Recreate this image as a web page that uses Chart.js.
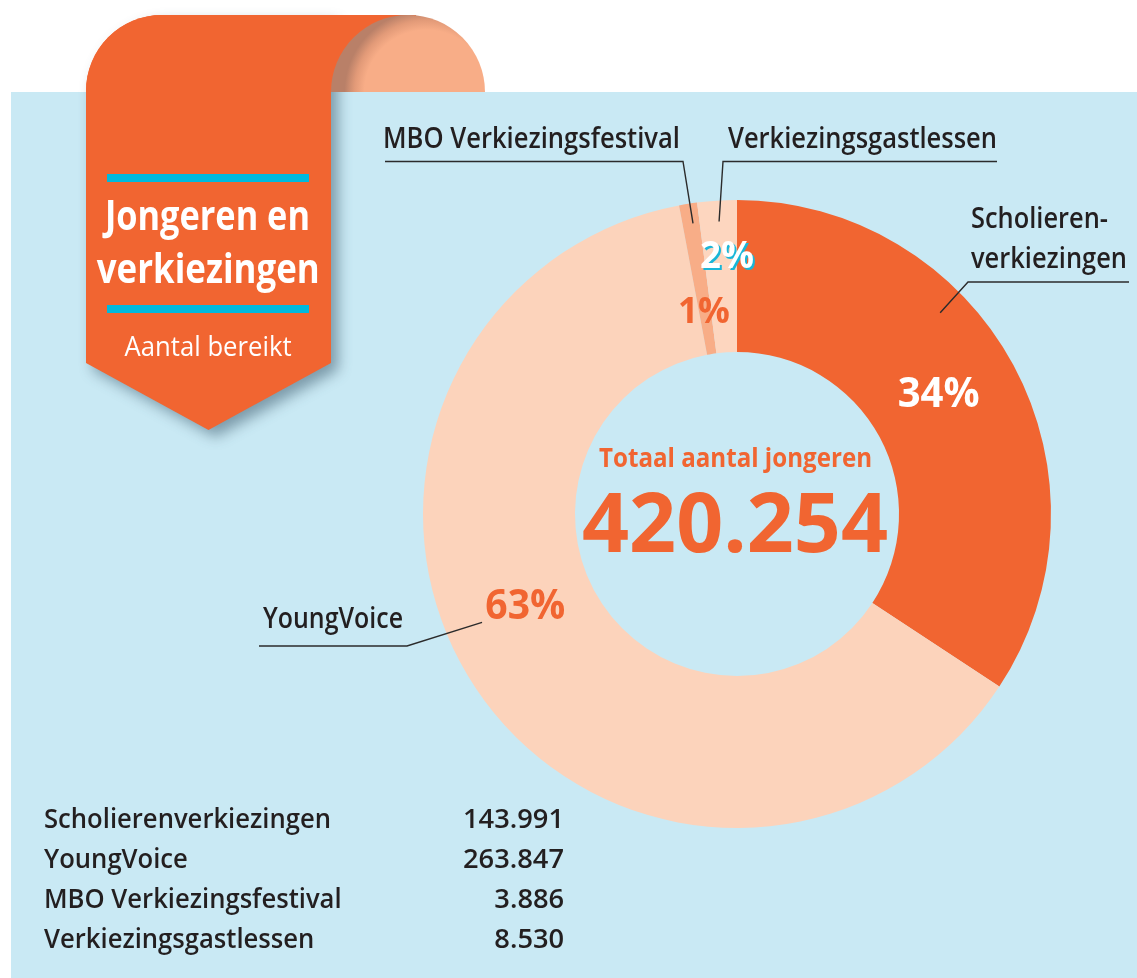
<!DOCTYPE html>
<html><head><meta charset="utf-8">
<script src="https://cdn.jsdelivr.net/npm/chart.js@4.4.1/dist/chart.umd.min.js"></script>
<style>
html,body{margin:0;padding:0;background:#fff;}
body{width:1137px;height:978px;position:relative;overflow:hidden;font-family:'Open Sans',sans-serif;}
#tabTop{position:absolute;left:86px;top:15px;width:330px;height:77px;background:#f16531;border-top-left-radius:76px;}
#curl{position:absolute;left:331px;top:15px;width:154px;height:77px;border-radius:77px 77px 0 0;background:radial-gradient(circle at 62% 100%,#f8ad87 0px,#f8ad87 62px,#e29a78 72px,#b98068 82px);}
#panel{position:absolute;left:11px;top:92px;width:1126px;height:886px;background:#c9e9f4;}
#bannerWrap{position:absolute;left:86px;top:15px;width:245px;height:415px;filter:drop-shadow(7px 7px 7px rgba(30,60,80,0.45));}
#banner{width:100%;height:100%;background:#f16531;border-top-left-radius:76px;clip-path:polygon(0 0,100% 0,100% 348px,50% 415px,0 348px);}
.bar{position:absolute;left:107px;width:202px;height:8px;background:#00b9dd;}
#c{position:absolute;left:0;top:0;}
.t{position:absolute;white-space:nowrap;line-height:1;}
</style></head>
<body>
<div id="panel"></div>
<div id="bannerWrap"><div id="banner"></div></div>
<div id="tabTop"></div>
<div id="curl"></div>
<div class="bar" style="top:174px"></div>
<div class="bar" style="top:305px"></div>
<canvas id="c" width="1137" height="978"></canvas>
<script>
// ---- data ----
const categories = ['Scholierenverkiezingen', 'YoungVoice', 'MBO Verkiezingsfestival', 'Verkiezingsgastlessen'];
const reached = [143991, 263847, 3886, 8530];
const calloutLabels = [['Scholieren-', 'verkiezingen'], ['YoungVoice'], ['MBO Verkiezingsfestival'], ['Verkiezingsgastlessen']];
const titleLines = ['Jongeren en', 'verkiezingen'];
const subtitle = 'Aantal bereikt';
const centerCaption = 'Totaal aantal jongeren';

const total = reached.reduce((a, b) => a + b, 0);
const percentLabels = reached.map(v => Math.round(v / total * 100) + '%');
function fmt(n) { return String(n).replace(/\B(?=(\d{3})+(?!\d))/g, '.'); }

// ---- styles ----
const ORANGE = '#f16531';
const DARK = '#231f20';
const F = "'Open Sans', sans-serif";
const sliceColors = ['#f16531', '#fcd3bb', '#f8ad87', '#fdd6bf'];

const pctStyle = [
  {t: 0.476, r: 236, size: 42, w: 82, color: '#ffffff'},
  {t: 0.547, r: 230, size: 42, w: 80, color: ORANGE},
  {t: 0.43, r: 207, size: 36, w: 52, color: ORANGE},
  {t: 0.70, r: 260, size: 38, w: 54, color: '#ffffff', shadow: '#19b6d8'}
];
const calloutStyle = [
  {lines: [{x: 971, y: 228, w: 137}, {x: 971, y: 268, w: 156}], from: [1129, 282], elbow: [968, 282], t: 0.367, r: 286},
  {lines: [{x: 263, y: 628, w: 140}], from: [259, 646], elbow: [407, 646], t: 0.547, r: 277},
  {lines: [{x: 383, y: 148, w: 297}], from: [385, 161.5], elbow: [683, 161.5], t: 0.61, r: 294},
  {lines: [{x: 728, y: 148, w: 269}], from: [997, 161.5], elbow: [723, 161.5], t: 0.52, r: 293}
];

function fitText(ctx, text, x, y, font, align, width, color) {
  ctx.save();
  ctx.font = font;
  ctx.fillStyle = color;
  ctx.textBaseline = 'alphabetic';
  ctx.textAlign = align;
  const w = ctx.measureText(text).width;
  const s = width ? width / w : 1;
  ctx.translate(x, y);
  ctx.scale(s, 1);
  ctx.fillText(text, 0, 0);
  ctx.restore();
}
function arcPoint(arc, t, r) {
  const a = arc.startAngle + t * (arc.endAngle - arc.startAngle);
  return {x: arc.x + r * Math.cos(a), y: arc.y + r * Math.sin(a)};
}

const labelPlugin = {
  id: 'labels',
  afterDatasetsDraw(chart) {
    const ctx = chart.ctx;
    const arcs = chart.getDatasetMeta(0).data;
    arcs.forEach((arc, i) => {
      const st = pctStyle[i];
      const p = arcPoint(arc, st.t, st.r);
      const base = p.y + st.size * 0.36;
      const font = `700 ${st.size}px ${F}`;
      if (st.shadow) fitText(ctx, percentLabels[i], p.x + 2, base + 2, font, 'center', st.w, st.shadow);
      fitText(ctx, percentLabels[i], p.x, base, font, 'center', st.w, st.color);
    });
    arcs.forEach((arc, i) => {
      const st = calloutStyle[i];
      st.lines.forEach((ln, j) => {
        fitText(ctx, calloutLabels[i][j], ln.x, ln.y, `600 28px ${F}`, 'left', ln.w, DARK);
      });
      const p = arcPoint(arc, st.t, st.r);
      ctx.save();
      ctx.strokeStyle = '#2b2b2b';
      ctx.lineWidth = 1.4;
      ctx.beginPath();
      ctx.moveTo(st.from[0], st.from[1]);
      ctx.lineTo(st.elbow[0], st.elbow[1]);
      ctx.lineTo(p.x, p.y);
      ctx.stroke();
      ctx.restore();
    });
    const a0 = arcs[0];
    fitText(ctx, centerCaption, a0.x - 1.5, a0.y - 47, `700 27px ${F}`, 'center', 273, ORANGE);
    fitText(ctx, fmt(total), a0.x - 2, a0.y + 38, `700 82px ${F}`, 'center', 306, ORANGE);
  }
};

new Chart(document.getElementById('c'), {
  type: 'doughnut',
  data: {
    labels: categories,
    datasets: [{data: reached, backgroundColor: sliceColors, borderWidth: 0, hoverOffset: 0}]
  },
  options: {
    responsive: false,
    animation: false,
    cutout: '51.6%',
    layout: {padding: {left: 423, right: 86, top: 200, bottom: 150}},
    plugins: {legend: {display: false}, tooltip: {enabled: false}}
  },
  plugins: [labelPlugin]
});

function place(text, x, baseline, anchor, opts) {
  const d = document.createElement('div');
  d.className = 't';
  d.style.font = opts.font;
  d.style.color = opts.color;
  const sp = document.createElement('span');
  sp.textContent = text;
  const b = document.createElement('span');
  b.style.cssText = 'display:inline-block;width:0;height:0;vertical-align:baseline;';
  d.appendChild(sp); d.appendChild(b);
  d.style.left = '0px'; d.style.top = '0px';
  document.body.appendChild(d);
  const w = sp.getBoundingClientRect().width;
  const bo = b.offsetTop;
  const s = opts.width ? opts.width / w : (opts.scale || 1);
  d.style.left = (x - w * anchor) + 'px';
  d.style.top = (baseline - bo) + 'px';
  d.style.transformOrigin = (anchor * 100) + '% 50%';
  d.style.transform = `scaleX(${s})`;
  return s;
}
place(titleLines[0], 207.5, 230, 0.5, {font: `700 42px ${F}`, color: '#fff', width: 205});
place(titleLines[1], 208.5, 283, 0.5, {font: `700 42px ${F}`, color: '#fff', width: 223});
place(subtitle, 208.5, 356, 0.5, {font: `400 28px ${F}`, color: '#fff', width: 167});

let labelScale = null, valueScale = null;
categories.forEach((c, i) => {
  const y = 828 + 40 * i;
  const sL = place(c, 44, y, 0, {font: `600 27px ${F}`, color: DARK, width: labelScale ? null : 287, scale: labelScale});
  if (labelScale === null) labelScale = sL;
  const sV = place(fmt(reached[i]), 564, y, 1, {font: `600 27px ${F}`, color: DARK, width: valueScale ? null : 101, scale: valueScale});
  if (valueScale === null) valueScale = sV;
});
</script>
</body></html>
